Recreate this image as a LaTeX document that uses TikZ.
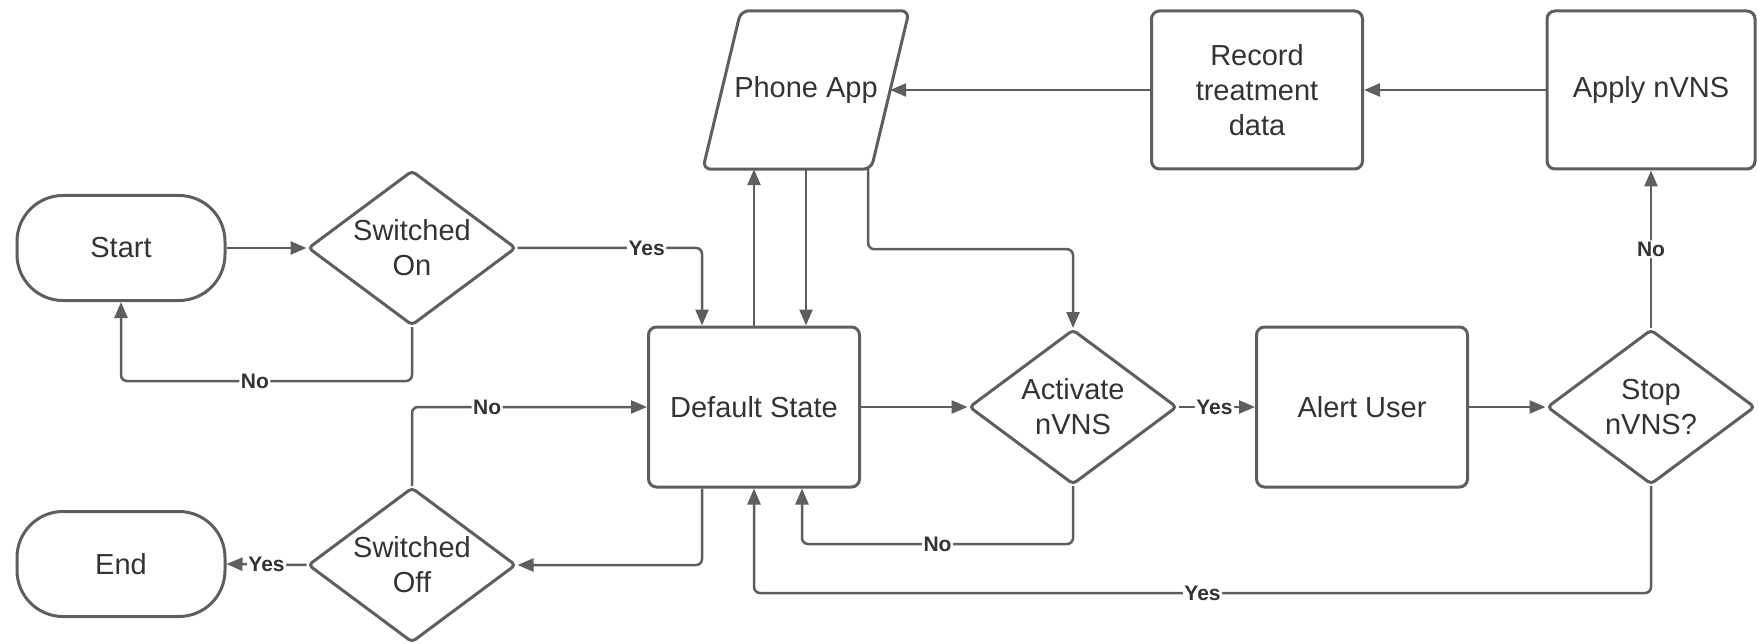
\documentclass[tikz,border=0pt]{standalone}
\usepackage{fontspec}
\setmainfont{Liberation Sans}
\usetikzlibrary{shapes.geometric,arrows.meta,calc}
\definecolor{linegray}{HTML}{5E5E5E}
\definecolor{textgray}{HTML}{333333}

\begin{document}
\begin{tikzpicture}[x=1pt,y=-1pt,
  txt/.style={text=textgray, font=\fontsize{29}{35}\selectfont, align=center},
  box/.style={txt, draw=linegray, line width=3pt, rounded corners=8pt,
    minimum width=211pt, minimum height=158pt, inner sep=0pt},
  term/.style={box, rounded corners=46pt, minimum width=208pt, minimum height=105pt},
  decide/.style={diamond, draw=linegray, line width=3pt, rounded corners=4pt,
    minimum width=208pt, minimum height=155pt, inner sep=0pt},
  dtext/.style={txt, inner sep=0pt},
  conn/.style={draw=linegray, line width=2.5pt, rounded corners=6pt,
    -{Triangle[length=16pt,width=13pt]}},
  lbl/.style={fill=white, inner sep=1.5pt, text=textgray,
    font=\fontsize{21}{24}\selectfont\bfseries}
]
\useasboundingbox (0,0) rectangle (1758,644);

% terminals
\node[term] (start) at (121,248) {Start};
\node[term] (end)   at (121,564) {End};

% decisions
\node[decide] (swon)  at (412,248) {};
\node[dtext] at (swon) {Switched\\On};
\node[decide] (swoff) at (412,565) {};
\node[dtext] at (swoff) {Switched\\Off};
\node[decide] (act)   at (1073,407) {};
\node[dtext] at (act) {Activate\\nVNS};
\node[decide] (stop)  at (1651,407) {};
\node[dtext] at (stop) {Stop\\nVNS?};

% process boxes
\node[box, minimum height=160pt] (def)   at (754,407)  {Default State};
\node[box, minimum height=160pt] (alert) at (1362,407) {Alert User};
\node[box] (rec)   at (1257,90) {Record\\treatment\\data};
\node[box, minimum width=208pt] (apply) at (1651,90) {Apply nVNS};

% phone app: slanted input/output shape around a plain node
\node[txt, minimum width=168pt, minimum height=158pt, inner sep=0pt] (phone) at (806,90) {Phone App};
\draw[draw=linegray, line width=3pt, rounded corners=8pt]
  ($(phone.south west)+(-19,0)$) -- ($(phone.north west)+(19,0)$) --
  ($(phone.north east)+(19,0)$) -- ($(phone.south east)+(-19,0)$) -- cycle;

% connectors
\draw[conn] (start.east) -- (swon.west);
\draw[conn] (swon.east) -| node[lbl,pos=0.35] {Yes} ($(def.north west)+(55,0)$);
\draw[conn] (swon.south) -- ++(0,54) -| node[lbl,pos=0.27] {No} (start.south);

\draw[conn] (def.north) -- (def.north |- phone.south);
\draw[conn] (phone.south) -- (phone.south |- def.north);
\draw[conn] ($(phone.south east)+(-22,0)$) -- ++(0,80) -| (act.north);

\draw[conn] (rec.west) -- (phone.east);
\draw[conn] (apply.west) -- (rec.east);

\draw[conn] (def.east) -- (act.west);
\draw[conn] (act.east) -- node[lbl,pos=0.47] {Yes} (alert.west);
\draw[conn] (alert.east) -- (stop.west);
\draw[conn] (stop.north) -- node[lbl,pos=0.5] {No} (apply.south);

\draw[conn] (stop.south) -- ++(0,107) -| node[lbl,pos=0.25] {Yes} (def.south);
\draw[conn] (act.south) -- ++(0,58) -| node[lbl,pos=0.25] {No} ($(def.south)+(48,0)$);

\draw[conn] ($(def.south west)+(55,0)$) |- (swoff.east);
\draw[conn] (swoff.north) |- node[lbl,pos=0.66] {No} (def.west);
\draw[conn] (swoff.west) -- node[lbl,pos=0.5] {Yes} (end.east);
\end{tikzpicture}
\end{document}
